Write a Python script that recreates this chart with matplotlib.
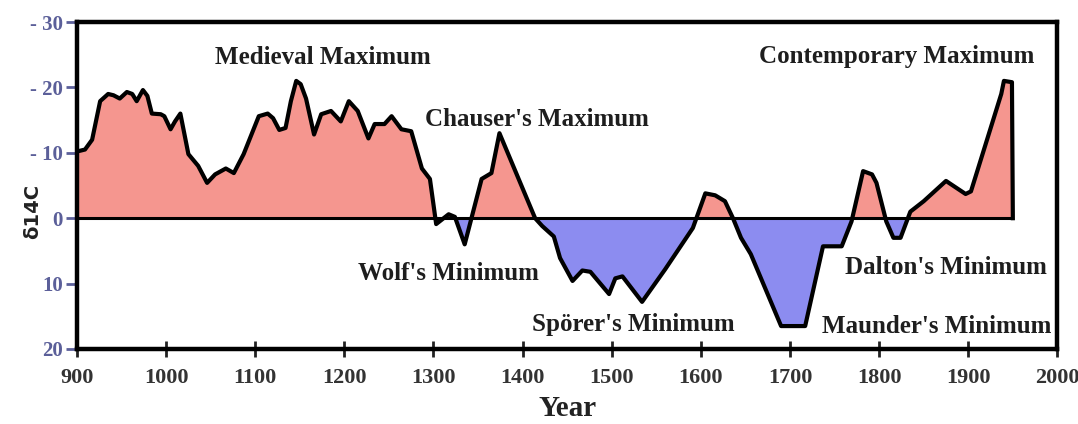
import numpy as np
import matplotlib
matplotlib.use("Agg")
import matplotlib.pyplot as plt

# delta 14C record (negative values are drawn upward, axis is inverted)
years = [900, 909, 917, 926, 935, 941, 948, 956, 962, 967, 974, 979, 984, 994, 998,
         1005, 1010, 1016, 1025, 1036, 1046, 1055, 1067, 1076, 1087, 1104, 1114, 1120,
         1127, 1134, 1140, 1146, 1151, 1157, 1166, 1174, 1185, 1196, 1205, 1215, 1227,
         1234, 1245, 1253, 1264, 1275, 1287, 1296, 1303, 1317, 1324, 1335, 1354, 1365,
         1374, 1414, 1422, 1435, 1442, 1456, 1467, 1476, 1497, 1504, 1512, 1534, 1560,
         1591, 1605, 1616, 1627, 1636, 1645, 1656, 1690, 1717, 1737, 1741, 1758, 1769,
         1782, 1792, 1797, 1808, 1816, 1824, 1835, 1850, 1875, 1897, 1903, 1937, 1940,
         1949, 1950]
d14c = [-10.2, -10.5, -12, -17.9, -19, -18.8, -18.3, -19.3, -19, -17.9, -19.6, -18.7, -16,
        -15.9, -15.6, -13.6, -14.8, -16, -9.8, -8, -5.4, -6.7, -7.6, -6.9, -9.8, -15.6,
        -16, -15.3, -13.5, -13.8, -17.9, -21, -20.5, -18.3, -12.8, -15.9, -16.4, -14.8,
        -17.9, -16.4, -12.2, -14.4, -14.4, -15.6, -13.6, -13.3, -7.6, -6, 0.9, -0.6, -0.2,
        4, -6, -6.9, -13, 0, 1.2, 2.8, 6.1, 9.6, 8, 8.2, 11.6, 9.2, 8.9, 12.8, 7.8, 1.5,
        -3.8, -3.5, -2.6, 0, 3, 5.5, 16.5, 16.5, 4.3, 4.3, 4.3, 0.5, -7.2, -6.7, -5.4, 0.5,
        3, 3, -1, -2.6, -5.7, -3.7, -4.1, -19, -21, -20.8, 0]

yticks = [-30, -20, -10, 0, 10, 20]
ytick_labels = ["- 30", "- 20", "- 10", "0", "10", "20"]
xticks = list(range(900, 2001, 100))

label_text = ["Medieval Maximum", "Chauser's Maximum", "Contemporary Maximum",
              "Wolf's Minimum", "Spörer's Minimum", "Dalton's Minimum", "Maunder's Minimum"]
label_x = [1176, 1416, 1820, 1317, 1524, 1875, 1864]
label_y = [-24.6, -15.1, -24.8, 8.4, 16.2, 7.6, 16.6]

serif = ["Liberation Serif", "DejaVu Serif"]

fig = plt.figure(figsize=(10.78, 4.24), dpi=100)
ax = fig.add_axes([0.0714, 0.177, 0.9095, 0.771])

x = np.array(years, dtype=float)
y = np.array(d14c, dtype=float)
ax.fill_between(x, 0, y, where=y <= 0, interpolate=True, color="#f5968f", lw=0)
ax.fill_between(x, 0, y, where=y >= 0, interpolate=True, color="#8c8cf0", lw=0)
ax.hlines(0, 900, 1950, color="black", lw=2.2, zorder=3)
ax.plot(x, y, color="black", lw=3, solid_joinstyle="round", zorder=4)

for t, tx, ty in zip(label_text, label_x, label_y):
    ax.text(tx, ty, t, ha="center", va="center", family=serif, fontweight="bold",
            fontsize=18, color="#1e1e1e", zorder=5)

ax.set_xlim(900, 2000)
ax.set_ylim(20, -30)
ax.set_yticks(yticks)
ax.set_yticklabels(ytick_labels, family=serif, fontweight="bold", fontsize=15, color="#5b5f99")
ax.set_xticks(xticks)
ax.set_xticklabels([str(v) for v in xticks], family=serif, fontweight="bold", fontsize=16,
                   color="#333333")
ax.tick_params(axis="y", direction="out", length=8, width=2, color="#5b5f99", pad=2)
ax.tick_params(axis="x", direction="inout", length=12, width=2, color="#222222", pad=8)
for s in ax.spines.values():
    s.set_linewidth(3.2)
    s.set_color("black")

ax.set_xlabel("Year", family=serif, fontweight="bold", fontsize=21, color="#222222", labelpad=5)
ax.set_ylabel("δ14C", family="DejaVu Sans", fontweight="bold", fontsize=14, color="#222222")
ax.yaxis.set_label_coords(-0.036, 0.42)

fig.savefig("out.png", dpi=100)
